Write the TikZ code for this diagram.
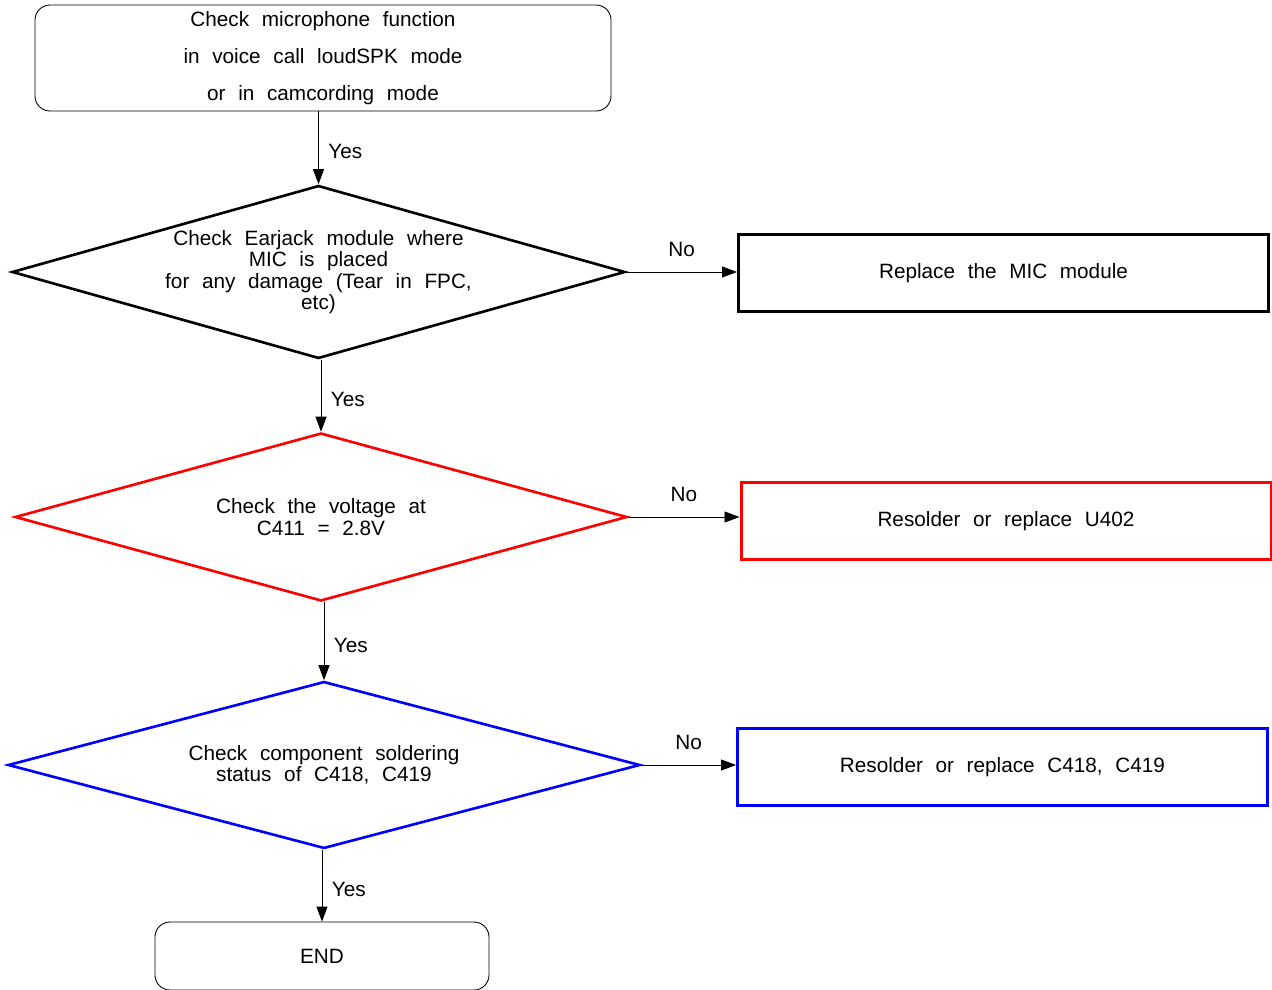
\documentclass[tikz,border=0pt]{standalone}
\usepackage{fontspec}
\setmainfont{Liberation Sans}[WordSpace=2.2]
\usepackage{xcolor}
\usepackage{tikz}
\usetikzlibrary{positioning,shapes.geometric,arrows.meta}
\definecolor{chkred}{HTML}{FF0000}
\definecolor{chkblue}{HTML}{0000FF}

\begin{document}
\begin{tikzpicture}[
  every node/.style={font=\fontsize{11.8}{12.2}\selectfont},
  termBox/.style={draw, rounded corners=0.3cm, line width=0.5pt, align=center},
  decBox/.style ={draw, diamond, shape aspect=3.5, inner sep=0pt, align=center, line width=1.5pt},
  actBox/.style ={draw, minimum width=10.6cm, minimum height=1.54cm, line width=1.7pt},
  flowArr/.style={-{Triangle[length=0.3cm,width=0.22cm]}, line width=0.5pt},
  yesLbl/.style ={right=2pt, pos=0.55},
  noLbl/.style  ={above=5pt, midway},
]
% page frame: 1272 x 989 px at 0.02 cm per px
\useasboundingbox (0,0) rectangle (25.44,-19.78);

% start and end
\node[termBox, minimum width=11.52cm, minimum height=2.12cm,
      font=\fontsize{11.8}{21}\selectfont] (start) at (6.46,-1.16)
  {Check microphone function\\in voice call loudSPK mode\\or in camcording mode};
\node[termBox, minimum width=6.68cm, minimum height=1.36cm] (endBox) at (6.44,-19.12) {END};

% decisions
\node[decBox, minimum width=12.26cm, minimum height=3.46cm] (earjack) at (6.37,-5.44)
  {Check Earjack module where\\MIC is placed\\for any damage (Tear in FPC,\\etc)};
\node[decBox, draw=chkred, minimum width=12.24cm, minimum height=3.36cm] (volt) at (6.42,-10.34)
  {Check the voltage at\\C411 = 2.8V};
\node[decBox, draw=chkblue, minimum width=12.64cm, minimum height=3.34cm] (solder) at (6.48,-15.3)
  {Check component soldering\\status of C418, C419};

% actions
\node[actBox] (replMic) at (20.07,-5.46) {Replace the MIC module};
\node[actBox, draw=chkred] (replU) at (20.12,-10.42) {Resolder or replace U402};
\node[actBox, draw=chkblue] (replC) at (20.05,-15.34) {Resolder or replace C418, C419};

% Yes path
\draw[flowArr] (earjack.north |- start.south) -- (earjack.north) node[yesLbl] {Yes};
\draw[flowArr] (volt.north |- earjack.south) -- (volt.north) node[yesLbl] {Yes};
\draw[flowArr] (solder.north |- volt.south) -- (solder.north) node[yesLbl] {Yes};
\draw[flowArr] (endBox.north |- solder.south) -- (endBox.north) node[yesLbl] {Yes};

% No branches
\draw[flowArr] (earjack.east) -- (earjack.east -| replMic.west) node[noLbl] {No};
\draw[flowArr] (volt.east) -- (volt.east -| replU.west) node[noLbl] {No};
\draw[flowArr] (solder.east) -- (solder.east -| replC.west) node[noLbl] {No};
\end{tikzpicture}
\end{document}
